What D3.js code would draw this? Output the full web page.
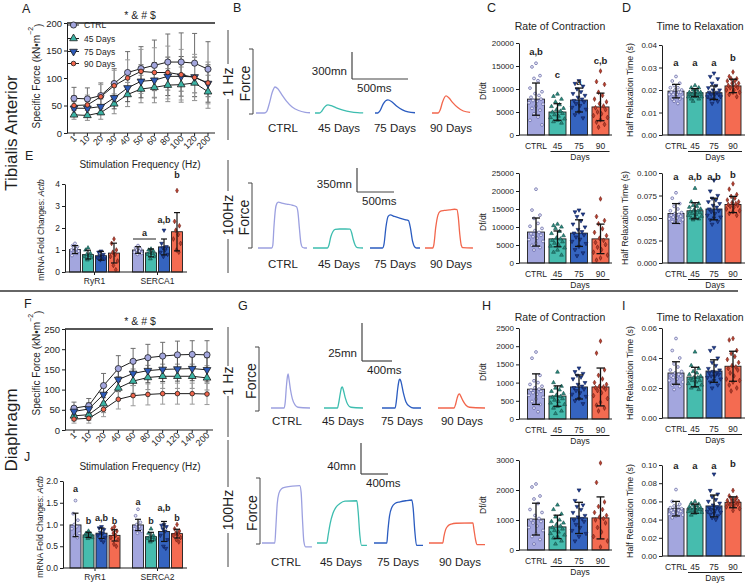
<!DOCTYPE html>
<html><head><meta charset="utf-8">
<script src="https://cdn.jsdelivr.net/npm/d3@7"></script>
<style>body{margin:0;background:#fff}svg{display:block}</style>
</head><body><svg id="c" width="750" height="584"></svg>
<script>
// ---------------- DATA ----------------
const groups = ["CTRL","45 Days","75 Days","90 Days"];
const barCats = ["CTRL","45","75","90"];

// Panel A (Tibialis anterior force-frequency)
const freqA = ["1","10","20","30","40","50","60","80","100","120","200"];
const aCTRL = [63,62,68,90,110,117,123,129,129,127,116];
const a45   = [33,32,37,53,70,80,83,87,88,91,75];
const a75   = [45,45,48,64,82,94,96,103,103,102,90];
const a90   = [50,51,66,86,100,112,110,110,106,101,91];
const aErrCTRL = [20,20,23,27,38,40,46,51,53,54,50];
const aErr45   = [8,9,12,18,22,25,28,30,32,32,30];
const aErr75   = [12,12,14,20,25,30,32,35,36,36,34];
const aErr90   = [18,18,22,28,33,40,45,48,46,42,38];
const aTicks = [0,50,100,150,200];

// Panel F (Diaphragm force-frequency)
const freqF = ["1","10","20","40","60","80","100","120","140","200"];
const fCTRL = [54,60,110,152,170,179,183,186,187,186];
const f45   = [35,38,65,104,121,130,133,133,133,129];
const f75   = [46,52,88,125,140,147,150,151,152,149];
const f90   = [27,29,51,76,85,88,90,90,90,89];
const fErrCTRL = [15,18,30,32,32,33,34,34,34,35];
const fErr45   = [12,14,22,28,30,30,30,30,30,30];
const fErr75   = [12,15,25,30,30,30,30,30,30,30];
const fErr90   = [10,12,18,24,25,26,26,26,26,26];
const fTicks = [0,50,100,150,200,250];

// Panel E (TA mRNA)
const eGenes = ["RyR1","SERCA1"];
const eMeanRyR1 = [1.02,0.79,0.74,0.86];
const eSdRyR1   = [0.18,0.20,0.20,0.45];
const eMeanSERCA1 = [1.00,0.87,1.14,1.83];
const eSdSERCA1   = [0.15,0.18,0.36,0.87];
const eDotsRyR1 = [[1.3,1.2,1.15,1.1,1.05,1.0,0.95,0.9,0.85,0.75],[1.1,1.0,0.85,0.8,0.75,0.7,0.65,0.55],[0.95,0.9,0.8,0.75,0.7,0.65,0.6,0.55],[1.5,1.3,1.0,0.9,0.8,0.7,0.5,0.3,0.1]];
const eDotsSERCA1 = [[1.2,1.1,1.05,1.0,0.95,0.9,0.85,0.8],[1.05,1.0,0.95,0.9,0.85,0.8,0.7,0.6],[1.9,1.3,1.15,1.1,1.0,0.9,0.8,0.7],[3.7,2.3,2.1,1.9,1.7,1.5,1.3,1.0,0.9]];
const eTicks = [0,1,2,3,4];

// Panel J (Diaphragm mRNA)
const jGenes = ["RyR1","SERCA2"];
const jMeanRyR1 = [0.99,0.76,0.80,0.75];
const jSdRyR1   = [0.27,0.06,0.12,0.13];
const jMeanSERCA2 = [0.99,0.72,0.84,0.79];
const jSdSERCA2   = [0.13,0.10,0.23,0.10];
const jDotsRyR1 = [[1.55,1.25,1.1,1.0,0.95,0.9,0.8,0.75,0.7],[0.85,0.8,0.78,0.76,0.75,0.73,0.7,0.68],[0.95,0.92,0.88,0.82,0.8,0.75,0.7,0.65,0.6],[0.95,0.9,0.85,0.8,0.75,0.7,0.65,0.55,0.5]];
const jDotsSERCA2 = [[1.35,1.2,1.05,1.0,0.95,0.9,0.85,0.8],[0.9,0.8,0.75,0.72,0.7,0.68,0.65,0.6],[1.0,0.98,0.95,0.9,0.85,0.75,0.65,0.5,0.45],[1.0,0.9,0.85,0.8,0.78,0.75,0.7,0.65,0.6]];
const jTicks = [0,0.5,1.0,1.5,2.0];

// Panel C (TA rate of contraction)
const cTopMean = [7800,5000,7600,6100];
const cTopSd   = [3500,1800,2600,3000];
const cTopDots = [
 [15600,14800,12900,12300,11800,10200,9400,9000,8600,8200,7800,7500,7300,7000,6700,6300,5800,5400,4600,3900,3200,2200],
 [8900,8400,7800,7200,6600,6200,5800,5500,5200,5000,4700,4400,4100,3800,3500,3200,2900,2600],
 [11800,11200,10600,10000,9400,9000,8600,8200,7800,7500,7200,6800,6400,6000,5600,5000,4400,3700],
 [13900,11600,11000,9300,8600,7800,7200,6800,6300,5900,5500,5000,4600,4200,3800,3300,2800,2300,1700]];
const cTopTicks = [0,5000,10000,15000,20000];
const cBotMean = [8600,6700,8300,6700];
const cBotSd   = [3900,2200,3700,4100];
const cBotDots = [
 [20500,14700,13300,12400,11000,10200,9600,9000,8500,8100,7700,7300,6900,6500,6000,5500,4900,4300,3600],
 [10800,10400,10000,9600,8800,8200,7600,7000,6700,6300,5900,5500,5100,4700,4200,3600,3000,2200],
 [14700,14200,13600,12900,11700,10800,10000,9300,8700,8300,7800,7200,6600,6000,5400,4600,3700,2800,2000],
 [17800,12900,11800,10900,9500,8500,7600,6900,6300,5700,5100,4400,3700,3000,2200,1400,800]];
const cBotTicks = [0,5000,10000,15000,20000,25000];

// Panel D (TA relaxation)
const dTopMean = [0.0195,0.0188,0.0188,0.0218];
const dTopSd   = [0.0030,0.0018,0.0030,0.0030];
const dTopDots = [
 [0.026,0.024,0.023,0.022,0.021,0.021,0.020,0.020,0.019,0.019,0.019,0.018,0.018,0.018,0.017,0.017,0.016,0.016,0.015,0.014],
 [0.022,0.021,0.021,0.020,0.020,0.019,0.019,0.019,0.019,0.018,0.018,0.018,0.018,0.017,0.017,0.017,0.016,0.016,0.015],
 [0.0275,0.026,0.025,0.023,0.022,0.021,0.020,0.020,0.019,0.019,0.018,0.018,0.018,0.017,0.017,0.016,0.016,0.015,0.014],
 [0.028,0.026,0.025,0.025,0.024,0.024,0.023,0.023,0.022,0.022,0.021,0.021,0.020,0.020,0.019,0.019,0.018,0.017]];
const dTopTicks = [0,0.01,0.02,0.03,0.04];
const dBotMean = [0.055,0.058,0.060,0.065];
const dBotSd   = [0.011,0.009,0.012,0.009];
const dBotDots = [
 [0.078,0.072,0.066,0.063,0.060,0.058,0.056,0.055,0.054,0.053,0.052,0.051,0.050,0.049,0.048,0.047,0.046,0.045],
 [0.083,0.068,0.066,0.064,0.063,0.062,0.060,0.059,0.058,0.057,0.056,0.055,0.054,0.053,0.052,0.051,0.050,0.049,0.048],
 [0.092,0.080,0.075,0.072,0.070,0.068,0.066,0.064,0.062,0.060,0.058,0.057,0.055,0.053,0.051,0.050,0.048,0.046,0.043],
 [0.088,0.082,0.076,0.074,0.072,0.070,0.068,0.067,0.066,0.065,0.064,0.063,0.062,0.060,0.058,0.057,0.055,0.053]];
const dBotTicks = [0,0.025,0.05,0.075,0.1];

// Panel H (Diaphragm rate of contraction)
const hTopMean = [820,630,880,880];
const hTopSd   = [420,280,330,520];
const hTopDots = [
 [1840,1670,1200,1050,1000,950,900,860,820,790,760,720,680,650,600,550,480,400,300,200],
 [1290,1000,900,850,800,760,700,660,620,600,560,520,480,440,400,350,300,220,150],
 [1400,1300,1250,1200,1150,1100,1000,950,900,860,820,780,720,680,620,560,500,420],
 [2140,1810,1350,1200,1100,1000,950,900,880,860,820,780,720,640,560,460,380,300,220]];
const hTopTicks = [0,500,1000,1500,2000,2500];
const hBotMean = [1030,770,1070,1070];
const hBotSd   = [530,390,520,700];
const hBotDots = [
 [2200,2100,1800,1700,1550,1350,1250,1150,1050,1000,950,900,800,750,650,550,450,350,200],
 [1500,1350,1200,1100,1000,950,900,850,800,750,700,650,600,550,500,450,400,300,200],
 [2000,1650,1500,1450,1350,1250,1150,1100,1050,1000,950,850,750,650,550,450,300],
 [2900,2250,1600,1450,1350,1250,1150,1100,1050,1000,900,750,600,450,300,100]];
const hBotTicks = [0,1000,2000,3000];

// Panel I (Diaphragm relaxation)
const iTopMean = [0.0300,0.0273,0.0313,0.0345];
const iTopSd   = [0.0075,0.0065,0.0075,0.0100];
const iTopDots = [
 [0.053,0.045,0.040,0.036,0.034,0.032,0.031,0.030,0.029,0.028,0.028,0.027,0.026,0.025,0.024,0.023,0.022,0.021,0.019],
 [0.044,0.035,0.033,0.031,0.030,0.029,0.028,0.027,0.027,0.026,0.025,0.025,0.024,0.023,0.022,0.021,0.020,0.019],
 [0.047,0.045,0.040,0.037,0.035,0.033,0.032,0.031,0.030,0.030,0.029,0.028,0.028,0.027,0.026,0.025,0.024,0.022,0.020],
 [0.053,0.052,0.045,0.043,0.041,0.039,0.037,0.035,0.034,0.033,0.032,0.030,0.028,0.026,0.025,0.024,0.022,0.020,0.018]];
const iTopTicks = [0,0.02,0.04,0.06];
const iBotMean = [0.052,0.052,0.055,0.059];
const iBotSd   = [0.008,0.005,0.012,0.006];
const iBotDots = [
 [0.073,0.060,0.057,0.055,0.054,0.053,0.052,0.051,0.050,0.050,0.049,0.048,0.047,0.046,0.045,0.044,0.042],
 [0.060,0.058,0.057,0.056,0.055,0.054,0.053,0.053,0.052,0.052,0.051,0.050,0.050,0.049,0.048,0.047,0.045],
 [0.090,0.072,0.068,0.065,0.062,0.060,0.058,0.056,0.054,0.053,0.052,0.051,0.050,0.049,0.048,0.047,0.046,0.044,0.042,0.040],
 [0.072,0.066,0.064,0.063,0.062,0.061,0.060,0.060,0.059,0.058,0.057,0.056,0.055,0.054,0.052,0.050]];
const iBotTicks = [0,0.02,0.04,0.06,0.08,0.1];

// Representative force traces [time ms, force mN]
const tB1_CTRL = [[0,0],[75,0],[95,15],[120,110],[145,230],[170,289],[195,270],[230,205],[270,135],[320,70],[380,28],[440,8],[482,3]];
const tB1_45   = [[0,0],[40,0],[60,20],[85,65],[115,90],[145,82],[190,58],[250,32],[320,13],[380,5],[430,2]];
const tB1_75   = [[0,0],[25,0],[45,25],[75,105],[115,145],[150,125],[195,75],[245,35],[295,12],[357,3]];
const tB1_90   = [[0,0],[55,0],[72,30],[95,125],[125,190],[150,170],[185,115],[230,60],[280,22],[340,6]];
const tB100_CTRL = [[0,0],[185,0],[200,40],[215,300],[235,560],[255,650],[275,670],[320,655],[390,640],[460,625],[520,600],[540,520],[560,280],[580,70],[600,10],[630,0],[662,0]];
const tB100_45   = [[0,0],[195,0],[215,40],[240,160],[270,240],[300,270],[360,277],[440,277],[500,275],[520,230],[545,120],[570,40],[600,5],[676,0]];
const tB100_75   = [[0,0],[170,0],[190,60],[215,300],[245,460],[275,482],[330,460],[400,437],[470,415],[520,400],[545,300],[575,100],[605,15],[635,0],[676,0]];
const tB100_90   = [[0,0],[105,0],[120,50],[145,300],[175,480],[205,535],[260,548],[330,555],[400,565],[432,560],[450,450],[470,200],[490,40],[510,5],[648,0]];
const tG1_CTRL = [[0,0],[175,0],[190,4],[205,14],[220,21],[228,22.4],[240,19],[260,12],[285,6],[320,2],[360,0.5],[520,0]];
const tG1_45   = [[0,0],[180,0],[195,3],[215,9],[235,13.5],[245,13.8],[260,11.5],[285,6.5],[315,2.5],[360,0.5],[520,0]];
const tG1_75   = [[0,0],[175,0],[190,4],[210,13],[230,18.5],[240,19],[255,17],[285,10],[320,4],[370,1],[420,0],[520,0]];
const tG1_90   = [[0,0],[215,0],[235,2.5],[255,6.5],[275,9],[285,9.2],[300,8.2],[330,5],[370,2],[420,0.5],[627,0]];
const tG100_CTRL = [[0,0],[190,0],[205,20],[225,50],[250,64],[290,70],[350,72],[450,73.5],[560,74],[580,65],[600,30],[620,2],[645,-5],[740,-5]];
const tG100_45   = [[0,0],[145,0],[165,10],[195,25],[235,38],[280,46],[340,51],[415,54],[590,54.5],[610,40],[635,10],[660,-3],[740,-3]];
const tG100_75   = [[0,0],[190,0],[205,15],[230,35],[265,46],[310,51],[385,53],[470,54.5],[560,55.5],[580,45],[605,15],[630,-3],[726,-3]];
const tG100_90   = [[0,0],[205,0],[220,8],[245,17],[280,22],[330,24.5],[400,25.5],[650,26],[665,18],[690,4],[710,-2],[830,-2]];

// ---------------- STYLE ----------------
const FONT = '"Liberation Sans", Arial, Helvetica, sans-serif';
const INK = "#1e1e1e";
const barFill  = ["#a3a6de","#46bcae","#3564c0","#f46b51"];
const dotFill  = ["#e4e4f7","#2a8c80","#1e3d90","#b9412f"];
const dotStroke= ["#4e5194","#164f48","#0f2058","#6d1b12"];
const traceCol = ["#9ca0e0","#3dbdaf","#2b5cc0","#f2664c"];
const markFill = ["#a3a6de","#3bb3a4","#2d5ab8","#f2664c"];
const errCol   = ["#6d6d6d","#8a8a8a","#555555","#9a9a9a"];
const symTypes = [d3.symbolCircle, d3.symbolTriangle, d3.symbolTriangle, d3.symbolDiamond];
const symRot   = [0,0,180,0];
const jit = [0,-4,4,-2,2,-6,6,-1,3,-5,5,-3,1,-7,7];

const svg = d3.select("#c").attr("font-family", FONT);

function txt(g, x, y, s, o={}) {
  const t = g.append("text").attr("x",x).attr("y",y).text(s)
    .attr("font-size", o.size||9).attr("fill", INK)
    .attr("text-anchor", o.anchor||"start");
  if (o.weight) t.attr("font-weight", o.weight);
  return t;
}
function vtxt(g, x, y, s, size) {
  return g.append("text").attr("transform",`translate(${x},${y}) rotate(-90)`)
    .attr("text-anchor","middle").attr("dy","0.35em").attr("font-size",size).attr("fill",INK).text(s);
}
function line(g,x1,y1,x2,y2,w=1,col=INK){
  return g.append("line").attr("x1",x1).attr("y1",y1).attr("x2",x2).attr("y2",y2).attr("stroke",col).attr("stroke-width",w);
}
function yAxis(g, x, scale, ticks, fmt, size) {
  const ax = g.append("g").attr("transform",`translate(${x},0)`)
    .call(d3.axisLeft(scale).tickValues(ticks).tickFormat(fmt).tickSize(3).tickSizeOuter(0).tickPadding(2));
  ax.attr("font-family", FONT);
  ax.select(".domain").attr("stroke",INK).attr("stroke-width",1);
  ax.selectAll(".tick line").attr("stroke",INK);
  ax.selectAll(".tick text").attr("font-size",size).attr("fill",INK);
  return ax;
}
function sym(g, gi, x, y, size, fill, stroke, sw) {
  g.append("path").attr("d", d3.symbol(symTypes[gi], size)())
    .attr("transform",`translate(${x},${y}) rotate(${symRot[gi]})`)
    .attr("fill",fill).attr("stroke",stroke).attr("stroke-width",sw);
}
function errBar(g, cx, y, m, sd, cap, w) {
  line(g,cx,y(m-sd),cx,y(m+sd),w,"#111");
  line(g,cx-cap,y(m+sd),cx+cap,y(m+sd),w,"#111");
  line(g,cx-cap,y(m-sd),cx+cap,y(m-sd),w,"#111");
}

// ---------------- BAR PANELS (C, D, H, I) ----------------
function barPanel(o) {
  const g = svg.append("g");
  const y = d3.scaleLinear().domain([0,o.max]).range([o.y0,o.y1]);
  const x = d3.scalePoint().domain(barCats).range([o.c0,o.c3]);
  barCats.forEach((c,i)=>{
    g.append("rect").attr("x",x(c)-o.bw/2).attr("y",y(o.means[i])).attr("width",o.bw)
      .attr("height",o.y0-y(o.means[i])).attr("fill",barFill[i]).attr("stroke",INK).attr("stroke-width",0.9);
  });
  barCats.forEach((c,i)=>{
    o.dots[i].slice().sort((a,b)=>b-a).forEach((v,k)=>{
      sym(g,i,x(c)+jit[k%jit.length]*o.bw/17,y(v),6.5,dotFill[i],dotStroke[i],0.6);
    });
  });
  barCats.forEach((c,i)=> errBar(g,x(c),y,o.means[i],o.sds[i],4,1.3));
  yAxis(g,o.ax,y,o.ticks,o.fmt,8);
  line(g,o.ax,o.y0,o.xEnd,o.y0,1);
  barCats.forEach(c=> txt(g,x(c),o.y0+14,c,{size:8.5,anchor:"middle"}));
  line(g,x("45")-7,o.y0+16.5,x("90")+9,o.y0+16.5,1);
  txt(g,(x("45")+x("90"))/2+1,o.y0+24.5,"Days",{size:8.5,anchor:"middle"});
  vtxt(g,o.ylx,o.yly,o.ylab,o.ylsize);
  if (o.title) txt(g,o.tx,o.ty,o.title,{size:10.5,anchor:"middle"});
  if (o.letters) o.letters.forEach((L,i)=>{ if (L) txt(g,x(barCats[i]),L[1],L[0],{size:9.5,anchor:"middle",weight:"bold"}); });
}

barPanel({ax:519,xEnd:612,y0:135,y1:43,max:20000,ticks:cTopTicks,fmt:d3.format("d"),c0:536,c3:600.5,bw:17,
  means:cTopMean,sds:cTopSd,dots:cTopDots,ylx:483,yly:91,ylab:"Df/dt",ylsize:8.5,
  title:"Rate of Contraction",tx:560,ty:30,letters:[["a,b",55],["c",78],["a",85],["c,b",64]]});
barPanel({ax:519,xEnd:612,y0:263,y1:173,max:25000,ticks:cBotTicks,fmt:d3.format("d"),c0:536,c3:600.5,bw:17,
  means:cBotMean,sds:cBotSd,dots:cBotDots,ylx:483,yly:222,ylab:"Df/dt",ylsize:8.5});
barPanel({ax:662,xEnd:745,y0:135,y1:45,max:0.04,ticks:dTopTicks,fmt:d3.format(".2f"),c0:676,c3:733,bw:16,
  means:dTopMean,sds:dTopSd,dots:dTopDots,ylx:630,yly:90,ylab:"Half Relaxation Time (s)",ylsize:8.8,
  title:"Time to Relaxation",tx:700,ty:30,letters:[["a",66],["a",66],["a",66],["b",60.5]]});
barPanel({ax:662,xEnd:745,y0:263,y1:173,max:0.1,ticks:dBotTicks,fmt:d3.format(".3f"),c0:676,c3:733,bw:16,
  means:dBotMean,sds:dBotSd,dots:dBotDots,ylx:625,yly:218,ylab:"Half Relaxation Time (s)",ylsize:8.8,
  letters:[["a",179.5],["a,b",179.5],["a,b",179.5],["b",178]]});
barPanel({ax:519,xEnd:612,y0:419,y1:328,max:2500,ticks:hTopTicks,fmt:d3.format("d"),c0:536,c3:600.5,bw:17,
  means:hTopMean,sds:hTopSd,dots:hTopDots,ylx:483,yly:372,ylab:"Df/dt",ylsize:8.5,
  title:"Rate of Contraction",tx:560,ty:321});
barPanel({ax:662,xEnd:745,y0:418,y1:328,max:0.06,ticks:iTopTicks,fmt:d3.format(".2f"),c0:676,c3:733,bw:16,
  means:iTopMean,sds:iTopSd,dots:iTopDots,ylx:630,yly:373,ylab:"Half Relaxation Time (s)",ylsize:8.8,
  title:"Time to Relaxation",tx:700,ty:321});
barPanel({ax:519,xEnd:612,y0:550,y1:460,max:3000,ticks:hBotTicks,fmt:d3.format("d"),c0:536,c3:600.5,bw:17,
  means:hBotMean,sds:hBotSd,dots:hBotDots,ylx:483,yly:505,ylab:"Df/dt",ylsize:8.5});
barPanel({ax:662,xEnd:745,y0:556,y1:465,max:0.1,ticks:iBotTicks,fmt:d3.format(".2f"),c0:676,c3:733,bw:16,
  means:iBotMean,sds:iBotSd,dots:iBotDots,ylx:630,yly:511,ylab:"Half Relaxation Time (s)",ylsize:8.8,
  letters:[["a",469],["a",469],["a",469],["b",467]]});

// ---------------- LINE PANELS (A, F) ----------------
function linePanel(o) {
  const g = svg.append("g");
  const x = d3.scalePoint().domain(o.cats).range([o.x0,o.x1]);
  const y = d3.scaleLinear().domain([0,o.max]).range([o.y0,o.y1]);
  o.series.forEach((s,si)=>{
    s.vals.forEach((v,i)=>{
      const cx = x(o.cats[i]);
      line(g,cx,y(v-s.err[i]),cx,y(v+s.err[i]),1,errCol[si]);
      line(g,cx-2.5,y(v+s.err[i]),cx+2.5,y(v+s.err[i]),1,errCol[si]);
      line(g,cx-2.5,y(v-s.err[i]),cx+2.5,y(v-s.err[i]),1,errCol[si]);
    });
  });
  o.series.forEach(s=>{
    g.append("path").datum(s.vals)
      .attr("d", d3.line().x((d,i)=>x(o.cats[i])).y(d=>y(d)))
      .attr("fill","none").attr("stroke",INK).attr("stroke-width",1);
  });
  const mtypes=[d3.symbolCircle,d3.symbolTriangle,d3.symbolTriangle,d3.symbolCircle];
  const msize=[30,26,26,17];
  o.series.forEach((s,si)=>{
    s.vals.forEach((v,i)=>{
      g.append("path").attr("d",d3.symbol(mtypes[si],msize[si])())
        .attr("transform",`translate(${x(o.cats[i])},${y(v)}) rotate(${symRot[si]})`)
        .attr("fill",markFill[si]).attr("stroke",INK).attr("stroke-width",0.8);
    });
  });
  yAxis(g,o.ax,y,o.ticks,d3.format("d"),9.5);
  line(g,o.ax,o.y0,o.xEnd,o.y0,1);
  o.cats.forEach(c=>{
    line(g,x(c),o.y0,x(c),o.y0+3,1);
    g.append("text").attr("transform",`translate(${x(c)+3},${o.y0+6}) rotate(-45)`)
      .attr("text-anchor","end").attr("font-size",9).attr("fill",INK).text(c);
  });
  txt(g,140,o.xtY,"Stimulation Frequency (Hz)",{size:10,anchor:"middle"});
  const yl = g.append("text").attr("transform",`translate(${o.ylx},${o.yly}) rotate(-90)`)
    .attr("text-anchor","middle").attr("dy","0.35em").attr("font-size",10).attr("fill",INK);
  yl.append("tspan").text("Specific Force (kN\u2022m");
  yl.append("tspan").attr("font-size",7).attr("dy","-0.9em").text("\u22122");
  yl.append("tspan").attr("dy","0.9em").text(")");
  line(g,o.ax,o.sigY,o.xEnd,o.sigY,1.5);
  txt(g,140,o.sigY-4,"* & # $",{size:10.5,anchor:"middle"});
  if (o.legend) {
    groups.forEach((nm,si)=>{
      const ly = o.legY[si];
      line(g,68,ly,79,ly,1);
      g.append("path").attr("d",d3.symbol(mtypes[si],msize[si])())
        .attr("transform",`translate(73.5,${ly}) rotate(${symRot[si]})`)
        .attr("fill",markFill[si]).attr("stroke",INK).attr("stroke-width",0.8);
      txt(g,84,ly+3,nm,{size:8.5});
    });
  }
}
linePanel({cats:freqA,x0:74,x1:208,xEnd:215,ax:67,y0:133,y1:23,max:200,ticks:aTicks,
  series:[{vals:aCTRL,err:aErrCTRL},{vals:a45,err:aErr45},{vals:a75,err:aErr75},{vals:a90,err:aErr90}],
  xtY:168,ylx:36,yly:76,sigY:23,legend:true,legY:[25,38.5,51.5,63.5]});
linePanel({cats:freqF,x0:74,x1:207,xEnd:213,ax:65,y0:430,y1:329,max:250,ticks:fTicks,
  series:[{vals:fCTRL,err:fErrCTRL},{vals:f45,err:fErr45},{vals:f75,err:fErr75},{vals:f90,err:fErr90}],
  xtY:470,ylx:36,yly:363,sigY:329,legend:false});

// ---------------- GROUPED BAR PANELS (E, J) ----------------
function groupPanel(o) {
  const g = svg.append("g");
  const y = d3.scaleLinear().domain([0,o.max]).range([o.y0,o.y1]);
  const outer = d3.scalePoint().domain(o.genes).range([o.g0,o.g1]);
  const inner = d3.scalePoint().domain(groups).range([-19.5,19.5]);
  o.genes.forEach((gene,gi)=>{
    groups.forEach((grp,i)=>{
      const cx = outer(gene)+inner(grp), m=o.means[gi][i];
      g.append("rect").attr("x",cx-5.5).attr("y",y(m)).attr("width",11).attr("height",o.y0-y(m))
        .attr("fill",barFill[i]).attr("stroke",INK).attr("stroke-width",0.9);
    });
  });
  o.genes.forEach((gene,gi)=>{
    groups.forEach((grp,i)=>{
      const cx = outer(gene)+inner(grp);
      o.dots[gi][i].slice().sort((a,b)=>b-a).forEach((v,k)=>
        sym(g,i,cx+jit[k%jit.length]*0.6,y(v),6.5,dotFill[i],dotStroke[i],0.6));
      errBar(g,cx,y,o.means[gi][i],o.sds[gi][i],3,1.2);
    });
  });
  yAxis(g,o.ax,y,o.ticks,o.fmt,8.5);
  line(g,o.ax,o.y0,o.xEnd,o.y0,1);
  o.genes.forEach(gene=>{
    line(g,outer(gene),o.y0,outer(gene),o.y0+3,1);
    txt(g,outer(gene),o.y0+12,gene,{size:8.5,anchor:"middle"});
  });
  const yl = g.append("text").attr("transform",`translate(${o.ylx},${o.yly}) rotate(-90)`)
    .attr("text-anchor","middle").attr("dy","0.35em").attr("font-size",8.5).attr("fill",INK);
  yl.append("tspan").text("mRNA Fold Changes: ");
  yl.append("tspan").attr("font-style","italic").text("Actb");
  o.letters.forEach(L=>{
    const cx = outer(o.genes[L[0]])+inner(groups[L[1]]);
    txt(g,cx,L[3],L[2],{size:9,anchor:"middle",weight:"bold"});
  });
  if (o.bracket) {
    const b=o.bracket, xa=outer(o.genes[b[0]])+inner(groups[b[1]])-5, xb=outer(o.genes[b[0]])+inner(groups[b[2]])+5;
    line(g,xa,b[3],xb,b[3],1);
    txt(g,(xa+xb)/2,b[3]-3,b[4],{size:9,anchor:"middle",weight:"bold"});
  }
}
groupPanel({genes:eGenes,means:[eMeanRyR1,eMeanSERCA1],sds:[eSdRyR1,eSdSERCA1],dots:[eDotsRyR1,eDotsSERCA1],
  max:4,ticks:eTicks,fmt:d3.format("d"),ax:65,xEnd:187,y0:272,y1:184,g0:94.5,g1:157.5,ylx:41,yly:230,
  letters:[[1,2,"a,b",223],[1,3,"b",178]],bracket:[1,0,1,239,"a"]});
groupPanel({genes:jGenes,means:[jMeanRyR1,jMeanSERCA2],sds:[jSdRyR1,jSdSERCA2],dots:[jDotsRyR1,jDotsSERCA2],
  max:2,ticks:jTicks,fmt:d3.format(".1f"),ax:63,xEnd:187,y0:568,y1:481,g0:95,g1:157.5,ylx:40,yly:527,
  letters:[[0,0,"a",492],[0,1,"b",524],[0,2,"a,b",521],[0,3,"b",524],[1,0,"a",505],[1,1,"b",524],[1,2,"a,b",511],[1,3,"b",521]]});

// ---------------- TRACE PANELS (B, G) ----------------
function tracePanel(o) {
  const g = svg.append("g");
  const xs = d3.scaleLinear().domain([0,o.barMs]).range([0,o.barW]);
  const ys = d3.scaleLinear().domain([0,o.barU]).range([0,-o.barH]);
  o.traces.forEach((tr,i)=>{
    g.append("path").datum(tr)
      .attr("d", d3.line().x(d=>o.slot[i]+xs(d[0])).y(d=>o.base+ys(d[1])).curve(d3.curveMonotoneX))
      .attr("fill","none").attr("stroke",traceCol[i]).attr("stroke-width",1.3);
    txt(g,o.lab[i],o.labY,i===0?"CTRL":groups[i],{size:11.5,anchor:"middle"});
  });
  line(g,o.sbx,o.sby,o.sbx,o.sby+o.barH,1.2,"#444");
  line(g,o.sbx,o.sby+o.barH,o.sbx+o.barW,o.sby+o.barH,1.2,"#444");
  txt(g,o.sbx-5,o.sby+o.barH-4,o.unitLab,{size:11.5,anchor:"end"});
  txt(g,o.sbx+5,o.sby+o.barH+13,o.msLab,{size:11.5});
  line(g,o.fbx,o.fb0,o.fbx,o.fb1,1,"#444");
  line(g,o.fbx-4,o.fb0,o.fbx,o.fb0,1,"#444");
  line(g,o.fbx-4,o.fb1,o.fbx,o.fb1,1,"#444");
  vtxt(g,o.fbx-8,(o.fb0+o.fb1)/2+2,"Force",14);
  vtxt(g,228,o.hzY,o.hz,14);
  line(g,228,o.hzL[0],228,o.hzL[1],1,"#444");
  line(g,228,o.hzL[2],228,o.hzL[3],1,"#444");
}
tracePanel({traces:[tB1_CTRL,tB1_45,tB1_75,tB1_90],slot:[256,315,375,432],base:113,
  barMs:500,barW:56,barU:300,barH:27,sbx:352,sby:52,unitLab:"300mn",msLab:"500ms",
  lab:[283,339,395,451],labY:132,fbx:253,fb0:49,fb1:114,hz:"1 Hz",hzY:82,hzL:[30,64,99,140]});
tracePanel({traces:[tB100_CTRL,tB100_45,tB100_75,tB100_90],slot:[258,313,370,425],base:248,
  barMs:500,barW:37,barU:350,barH:24,sbx:357,sby:168,unitLab:"350mn",msLab:"500ms",
  lab:[283,339,395,451],labY:268,fbx:252,fb0:183,fb1:248,hz:"100Hz",hzY:215,hzL:[160,191,239,273]});
tracePanel({traces:[tG1_CTRL,tG1_45,tG1_75,tG1_90],slot:[271,324,382,438],base:408,
  barMs:400,barW:30,barU:25,barH:38,sbx:362,sby:323,unitLab:"25mn",msLab:"400ms",
  lab:[287,343,402,462],labY:425,fbx:259,fb0:347,fb1:411,hz:"1 Hz",hzY:381,hzL:[327,366,396,437]});
tracePanel({traces:[tG100_CTRL,tG100_45,tG100_75,tG100_90],slot:[262,317,374,429],base:543,
  barMs:400,barW:27,barU:40,barH:31,sbx:361,sby:443,unitLab:"40mn",msLab:"400ms",
  lab:[286,341,398,460],labY:566,fbx:260,fb0:478,fb1:544,hz:"100Hz",hzY:510,hzL:[440,487,533,567]});

// ---------------- PANEL LETTERS, SECTION LABELS ----------------
const lettersG = svg.append("g");
[["A",22,13],["B",233,12],["C",487,12],["D",622,12],["E",25,160],
 ["F",24,308],["G",238,310],["H",482,310],["I",622,310],["J",24,461]]
 .forEach(d=> txt(lettersG,d[1],d[2],d[0],{size:12.5}));
vtxt(lettersG,11,133,"Tibialis Anterior",17);
vtxt(lettersG,11,430,"Diaphragm",17);
line(lettersG,0,291,738,291,1.6,"#333");
</script></body></html>
